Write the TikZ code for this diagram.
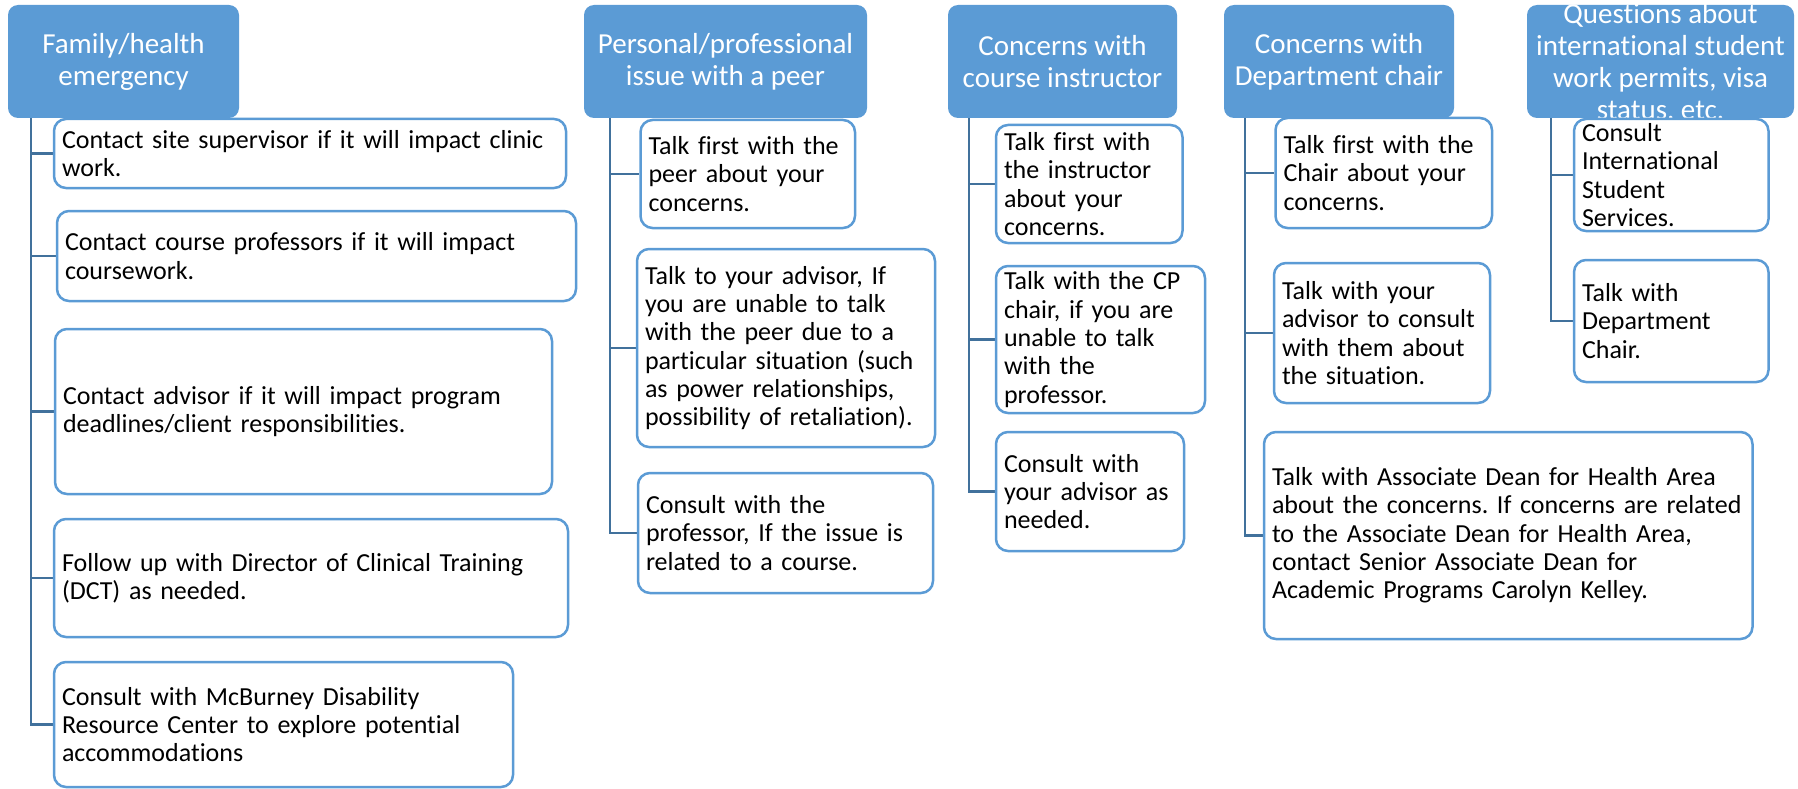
\documentclass[tikz,border=0pt]{standalone}
\usepackage{fontspec}
\setmainfont[Ligatures=CommonOff]{Carlito}
\usetikzlibrary{backgrounds}
\definecolor{hb}{HTML}{5B9BD5}
\definecolor{cb}{HTML}{5B9BD5}
\definecolor{ln}{HTML}{41719C}
\newcommand\childfont{\fontsize{26}{28.3}\selectfont}
\newcommand\headfont{\fontsize{29}{32}\selectfont}
\tikzset{
  head/.style={fill=hb, rounded corners=10, text=white, align=center, font=\headfont, inner sep=0pt},
  child/.style={draw=cb, line width=2.5pt, fill=white, rounded corners=12, align=left, inner xsep=8pt, inner ysep=0pt, font=\childfont},
  conn/.style={draw=ln, line width=2.5pt},
}
\begin{document}
\frenchspacing\hyphenpenalty=10000\exhyphenpenalty=10000
\begin{tikzpicture}[x=1pt,y=-1pt]
\useasboundingbox (0,0) rectangle (1798,789);
% headers
\node[head, minimum width=231, minimum height=113] (h1) at (123.5,61.5) {Family/health\\emergency};
\node[head, minimum width=283, minimum height=113] (h2) at (725.5,61.5) {Personal/professional\\issue with a peer};
\node[head, minimum width=229, minimum height=113] (h3) at (1062.5,61.5) {Concerns with\\course instructor};
\node[head, minimum width=230, minimum height=113] (h4) at (1339,61.5) {Concerns with\\Department chair};
\node[head, minimum width=267, minimum height=113] (h5) at (1660.5,61.5) {};
\node[text=white, align=center, font=\headfont, inner sep=0pt] (h5t) at (1660.5,61.5) {Questions about\\international student\\work permits, visa\\status. etc.};
% column 1
\node[child, text width=496, minimum height=69] (c1a) at (310,153.5) {Contact site supervisor if it will impact clinic\\work.};
\node[child, text width=503, minimum height=90] (c1b) at (316.5,256) {Contact course professors if it will impact\\coursework.};
\node[child, text width=481, minimum height=165] (c1c) at (303.5,411.5) {Contact advisor if it will impact program\\deadlines/client responsibilities.};
\node[child, text width=498, minimum height=118] (c1d) at (311,578) {Follow up with Director of Clinical Training\\(DCT) as needed.};
\node[child, text width=443, minimum height=125] (c1e) at (283.5,724.5) {Consult with McBurney Disability\\Resource Center to explore potential\\accommodations};
% column 2
\node[child, text width=198.5, minimum height=108] (c2a) at (747.75,174) {Talk first with the\\peer about your\\concerns.};
\node[child, text width=282, minimum height=198] (c2b) at (786,348) {Talk to your advisor, If\\you are unable to talk\\with the peer due to a\\particular situation (such\\as power relationships,\\possibility of retaliation).};
\node[child, text width=279, minimum height=120] (c2c) at (785.5,533) {Consult with the\\professor, If the issue is\\related to a course.};
% column 3
\node[child, text width=170.5, minimum height=118] (c3a) at (1089.25,184) {Talk first with\\the instructor\\about your\\concerns.};
\node[child, text width=193, minimum height=147] (c3b) at (1100.5,339.5) {Talk with the CP\\chair, if you are\\unable to talk\\with the\\professor.};
\node[child, text width=172, minimum height=119] (c3c) at (1090,491.5) {Consult with\\your advisor as\\needed.};
% column 4
\node[child, text width=200.5, minimum height=110] (c4a) at (1383.75,173) {Talk first with the\\Chair about your\\concerns.};
\node[child, text width=200, minimum height=140] (c4b) at (1382,333) {Talk with your\\advisor to consult\\with them about\\the situation.};
\node[child, text width=472.5, minimum height=207] (c4c) at (1508.25,535.5) {Talk with Associate Dean for Health Area\\about the concerns. If concerns are related\\to the Associate Dean for Health Area,\\contact Senior Associate Dean for\\Academic Programs Carolyn Kelley.};
% column 5
\node[child, text width=178.5, minimum height=112] (c5a) at (1671.25,175) {Consult\\International\\Student\\Services.};
\node[child, text width=178.5, minimum height=122] (c5b) at (1671.25,321) {Talk with\\Department\\Chair.};
% connectors
\coordinate (t1) at (31,118);
\coordinate (t2) at (610,118);
\coordinate (t3) at (969,118);
\coordinate (t4) at (1245,118);
\coordinate (t5) at (1551,118);
\begin{scope}[on background layer]
\foreach \c in {c1a,c1b,c1c,c1d,c1e} \draw[conn] (t1) |- (\c.west);
\foreach \c in {c2a,c2b,c2c} \draw[conn] (t2) |- (\c.west);
\foreach \c in {c3a,c3b,c3c} \draw[conn] (t3) |- (\c.west);
\foreach \c in {c4a,c4b,c4c} \draw[conn] (t4) |- (\c.west);
\foreach \c in {c5a,c5b} \draw[conn] (t5) |- (\c.west);
\end{scope}
\end{tikzpicture}
\end{document}
